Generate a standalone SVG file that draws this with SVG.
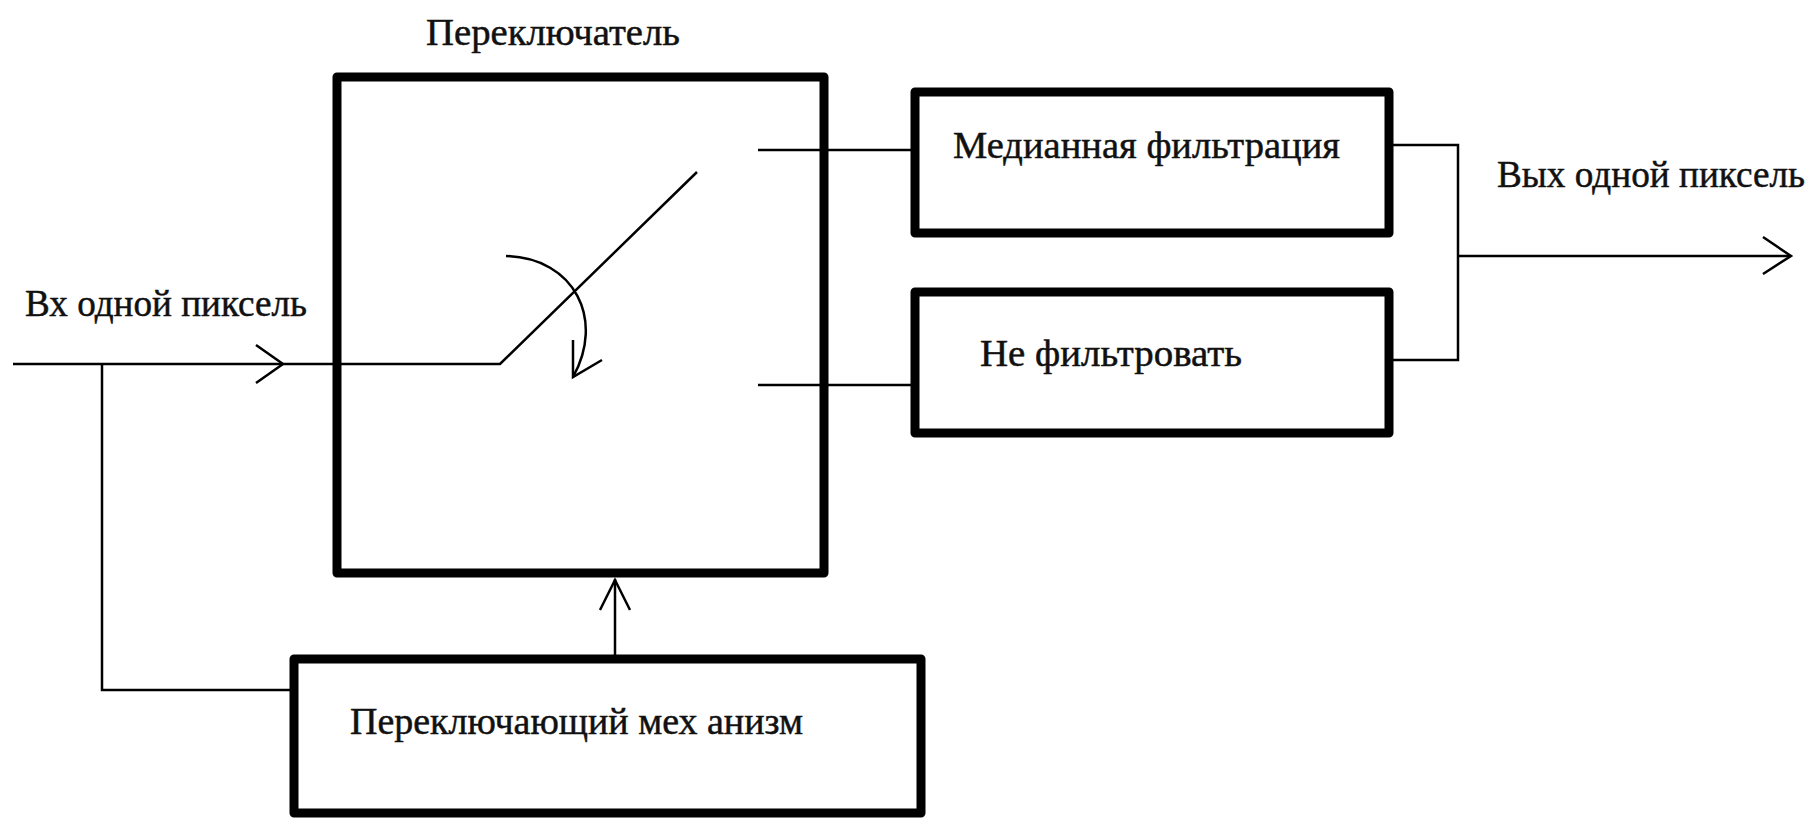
<svg xmlns="http://www.w3.org/2000/svg" width="1818" height="820" viewBox="0 0 1818 820">
  <style>
    .box { fill: #ffffff; stroke: #000000; stroke-width: 9; stroke-linejoin: round; }
    .wire { fill: none; stroke: #000000; stroke-width: 2.5; stroke-linejoin: miter; }
    .label { font-family: "Liberation Serif", "Times New Roman", serif; font-size: 38px; fill: #111111; stroke: #111111; stroke-width: 0.5; }
  </style>
  <rect width="1818" height="820" fill="#ffffff"/>

  <!-- switch block with the movable contact -->
  <g id="switch">
    <rect class="box" x="337" y="77" width="487" height="496"/>
    <text class="label" x="426" y="45" textLength="254" lengthAdjust="spacingAndGlyphs">Переключатель</text>
  </g>

  <!-- filter branch -->
  <g id="median">
    <rect class="box" x="915" y="92" width="474" height="141"/>
    <text class="label" x="953" y="158" textLength="387" lengthAdjust="spacingAndGlyphs">Медианная фильтрация</text>
  </g>

  <!-- bypass branch -->
  <g id="bypass">
    <rect class="box" x="915" y="292" width="474" height="141"/>
    <text class="label" x="980" y="366" textLength="262" lengthAdjust="spacingAndGlyphs">Не фильтровать</text>
  </g>

  <!-- control block -->
  <g id="mechanism">
    <rect class="box" x="294" y="659" width="627" height="154"/>
    <text class="label" x="350" y="734" textLength="453" lengthAdjust="spacingAndGlyphs">Переключающий мех анизм</text>
  </g>

  <g id="input-label">
    <text class="label" x="25" y="316" textLength="282" lengthAdjust="spacingAndGlyphs">Вх одной пиксель</text>
  </g>

  <g id="output-label">
    <text class="label" x="1497" y="187" textLength="308" lengthAdjust="spacingAndGlyphs">Вых одной пиксель</text>
  </g>

  <g id="connectors">
    <!-- input line into the switch, then the contact blade -->
    <polyline class="wire" points="13,364 500,364 697,172"/>
    <polyline class="wire" points="256,345 283,364 256,383"/>
    <!-- rotation arrow of the blade -->
    <path class="wire" d="M506,256 C575,258 605,320 573,377"/>
    <polyline class="wire" points="573,340 573,377 602,360"/>
    <!-- fixed contacts to the two branches -->
    <line class="wire" x1="758" y1="150" x2="915" y2="150"/>
    <line class="wire" x1="758" y1="385" x2="915" y2="385"/>
    <!-- tap of the input to the control block -->
    <polyline class="wire" points="102,364 102,690 290,690"/>
    <!-- control signal into the switch -->
    <line class="wire" x1="615" y1="659" x2="615" y2="579"/>
    <polyline class="wire" points="600,610 615,580 630,610"/>
    <!-- branch outputs merged to the pixel output -->
    <polyline class="wire" points="1389,145 1458,145 1458,360 1389,360"/>
    <line class="wire" x1="1458" y1="256" x2="1791" y2="256"/>
    <polyline class="wire" points="1763,237 1791,256 1763,274"/>
  </g>
</svg>
